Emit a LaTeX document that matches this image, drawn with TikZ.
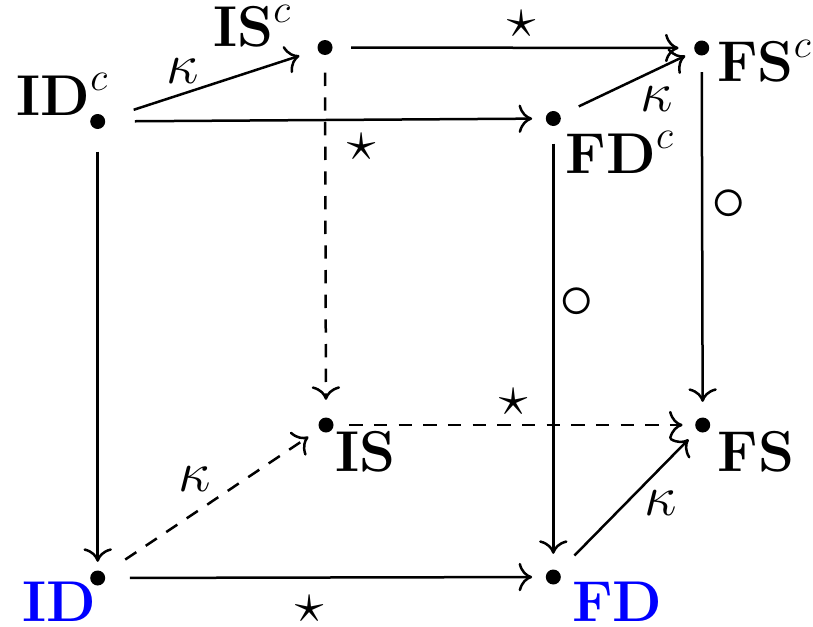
\documentclass[tikz,border=0pt]{standalone}
\usepackage{amsmath}
\usetikzlibrary{arrows.meta}
\begin{document}
\begin{tikzpicture}[x=0.3pt,y=-0.3pt,
  dot/.style={circle,fill=black,inner sep=0pt,minimum size=4.5pt},
  lab/.style={inner sep=0pt,anchor=base west,font=\fontsize{16.5}{19}\selectfont},
  elab/.style={inner sep=0pt,font=\fontsize{16.5}{19}\selectfont},
  clab/.style={inner sep=0pt,font=\fontsize{19.5}{22}\selectfont},
  arr/.style={-{To[scale=1.25]},line width=0.75pt},
  dsh/.style={dash pattern=on 4pt off 3.4pt},
  gap/.style 2 args={shorten <=#1pt,shorten >=#2pt}]
\useasboundingbox (0,0) rectangle (813,626);
% dots
\node[dot] (IDc) at (97.7,121.5) {};
\node[dot] (ISc) at (325,47.5) {};
\node[dot] (FSc) at (701.7,48) {};
\node[dot] (FDc) at (553.3,118.5) {};
\node[dot] (IS) at (326,425) {};
\node[dot] (FS) at (702.7,425) {};
\node[dot] (ID) at (97.7,578) {};
\node[dot] (FD) at (553.3,577) {};
% labels
\node[lab] (tIDc) at (16,115) {$\mathbf{ID}^c$};
\node[lab] (tISc) at (212.5,46.7) {$\mathbf{IS}^c$};
\node[lab] (tFSc) at (716.5,81.7) {$\mathbf{FS}^c$};
\node[lab] (tFDc) at (565,173) {$\mathbf{FD}^c$};
\node[lab] (tIS) at (334.5,471.7) {$\mathbf{IS}$};
\node[lab] (tFS) at (717,471.7) {$\mathbf{FS}$};
\node[lab,text=blue] (tID) at (21.5,621.5) {$\mathbf{ID}$};
\node[lab,text=blue] (tFD) at (571.5,621.5) {$\mathbf{FD}$};
% edges
\draw[arr,gap={8.9}{5.6}] (IDc) -- (ISc);
\draw[arr,gap={8.7}{3.9}] (IDc) -- (FDc);
\draw[arr,gap={6.6}{2.4}] (IDc) -- (ID);
\draw[arr,gap={5.4}{4.5}] (ISc) -- (FSc);
\draw[arr,dsh,gap={5.1}{5.1}] (ISc) -- (IS);
\draw[arr,gap={4.8}{4.5}] (FSc) -- (FS);
\draw[arr,gap={6}{3}] (FDc) -- (FSc);
\draw[arr,gap={5.1}{4.5}] (FDc) -- (FD);
\draw[arr,dsh,gap={4.5}{3.6}] (IS) -- (FS);
\draw[arr,dsh,gap={7.5}{3.9}] (ID) -- (IS);
\draw[arr,gap={6.6}{3.6}] (FD) -- (FS);
\draw[arr,gap={7.2}{3.9}] (ID) -- (FD);
% edge labels
\node[elab] (k1) at (183,71) {$\kappa$};
\node[elab] (s1) at (522,24) {$\star$};
\node[elab] (s2) at (362,147) {$\star$};
\node[elab] (k2) at (657,99) {$\kappa$};
\node[clab] (c1) at (729,205) {$\circ$};
\node[clab] (c2) at (577,303) {$\circ$};
\node[elab] (s3) at (514,402) {$\star$};
\node[elab] (k3) at (195,479) {$\kappa$};
\node[elab] (k4) at (661,503) {$\kappa$};
\node[elab] (s4) at (310,609) {$\star$};
\end{tikzpicture}
\end{document}
